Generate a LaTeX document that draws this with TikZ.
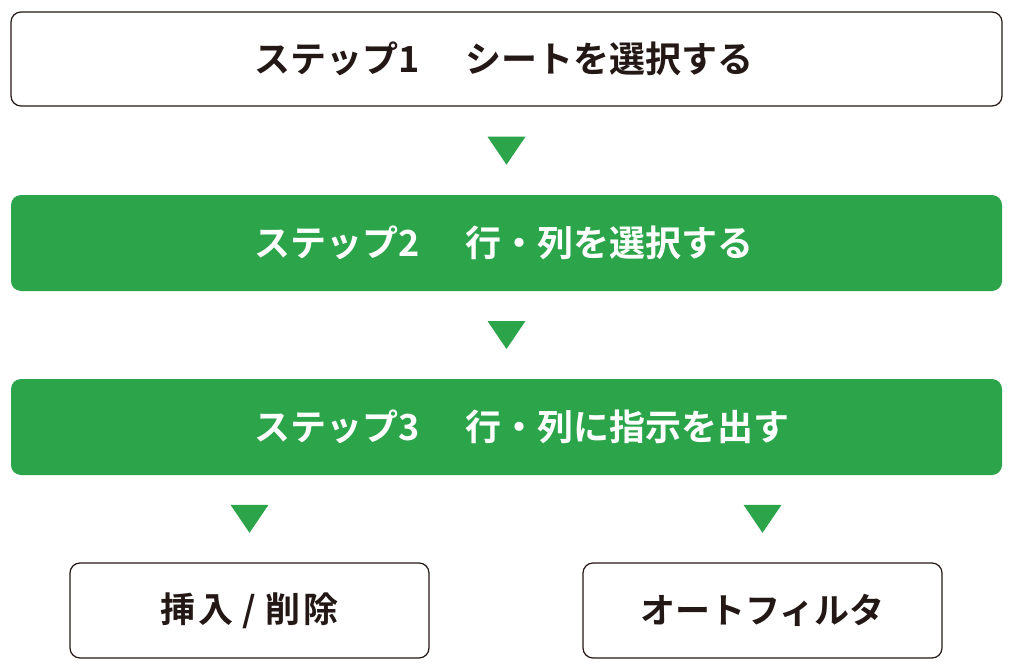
\documentclass[tikz,border=0pt]{standalone}
\usepackage{fontspec}
\newfontfamily\jp{Noto Sans CJK JP}[BoldFont={* Bold}]
\usetikzlibrary{calc}
\definecolor{stepgreen}{RGB}{43,164,74}
\definecolor{inkdark}{RGB}{35,24,21}
\tikzset{
  plainbox/.style={draw=inkdark, line width=1.2pt, rounded corners=10pt, fill=white,
    inner sep=0pt, text=inkdark, font=\jp\bfseries\fontsize{36}{42}\selectfont},
  widebox/.style={text width=991pt, align=left, minimum height=96pt},
  greenbox/.style={fill=stepgreen, rounded corners=10pt,
    inner sep=0pt, text=white, font=\jp\bfseries\fontsize{36}{42}\selectfont},
  smallbox/.style={plainbox, font=\jp\bfseries\fontsize{35}{42}\selectfont,
    minimum width=359pt, minimum height=95pt},
  tri/.style={fill=stepgreen}
}
\newcommand{\downtri}[1]{\fill[tri] (#1) ++(-19,-14) -- ++(38,0) -- ++(-19,28) -- cycle;}
\newcommand{\gap}{　\hspace{9pt}}
\newcommand{\lead}{\hspace*{244pt}}
\begin{document}
\begin{tikzpicture}[x=1pt,y=-1pt]
\useasboundingbox (0,0) rectangle (1017,666);
\node[plainbox, widebox, minimum height=94pt] (s1) at (506.5,59) {\lead ステップ1\gap シートを選択する};
\node[greenbox, widebox] (s2) at (506.5,243) {\lead ステップ2\gap 行・列を選択する};
\node[greenbox, widebox] (s3) at (506.5,427) {\lead ステップ3\gap 行・列に指示を出す};
\node[smallbox] (b1) at (249.5,610.5) {挿\hspace{3pt}入\hspace{9pt}/\hspace{9pt}削\hspace{3pt}除};
\node[smallbox] (b2) at (762.5,610.5) {オートフィルタ};
\coordinate (t1) at ($(s1.south)!0.5!(s2.north)$);
\coordinate (t2) at ($(s2.south)!0.5!(s3.north)$);
\coordinate (t3) at ($(s3.south -| b1.north)!0.5!(b1.north)$);
\coordinate (t4) at ($(s3.south -| b2.north)!0.5!(b2.north)$);
\downtri{t1}
\downtri{t2}
\downtri{t3}
\downtri{t4}
\end{tikzpicture}
\end{document}
